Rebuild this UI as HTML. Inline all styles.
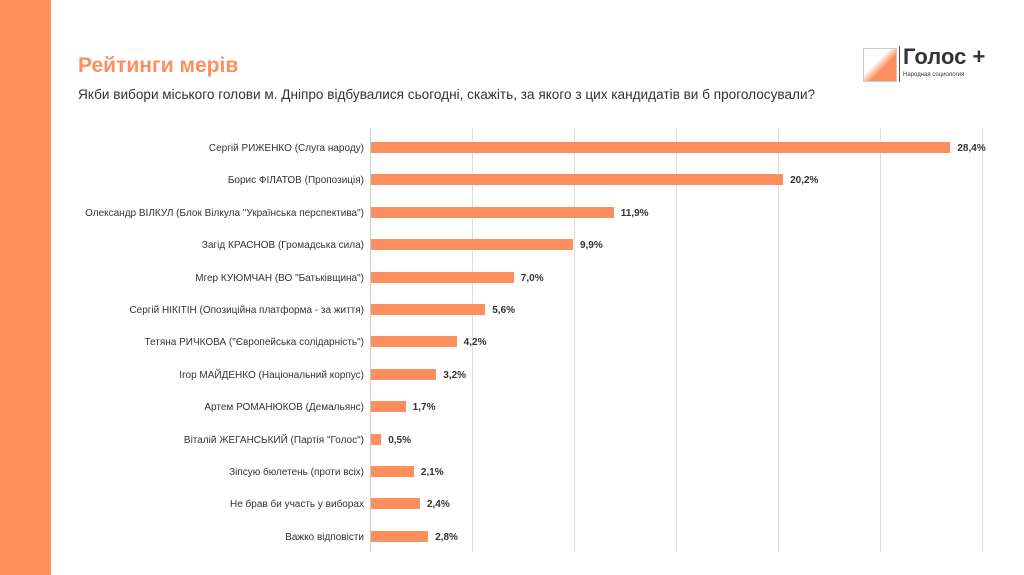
<!DOCTYPE html><html><head><meta charset="utf-8"><style>
body{margin:0;width:1024px;height:575px;background:#fff;position:relative;overflow:hidden;font-family:"Liberation Sans","DejaVu Sans",sans-serif}
.side{position:absolute;left:0;top:0;width:51px;height:575px;background:#fd8f5e}
.t{position:absolute;left:78px;top:54px;font-size:21px;font-weight:bold;color:#fd8f5e}
.s{position:absolute;left:78px;top:87px;font-size:13.6px;color:#333}
.g{position:absolute;top:128px;height:424px;width:1px;background:#ddd}
.lb{position:absolute;right:660px;font-size:10px;color:#333;white-space:nowrap}
.b{position:absolute;left:371px;height:11px;background:#fd8f5e}
.v{position:absolute;font-size:10px;font-weight:bold;color:#333}
</style></head><body>
<div class="side"></div>
<div class="t">Рейтинги мерів</div>
<div class="s">Якби вибори міського голови м. Дніпро відбувалися сьогодні, скажіть, за якого з цих кандидатів ви б проголосували?</div>
<div style="position:absolute;left:863px;top:48px;width:32px;height:32px;border:1px solid #ccc;background:linear-gradient(135deg,#fff 40%,#fd8f5e 60%)"></div>
<div style="position:absolute;left:899px;top:46px;width:1px;height:36px;background:#555"></div>
<div style="position:absolute;left:903px;top:44px;font-size:22px;font-weight:bold;color:#333">Голос +</div>
<div style="position:absolute;left:903px;top:72px;font-size:6px;color:#333">Народная социология</div>
<div class="g" style="left:370px;background:#ccc"></div><div class="g" style="left:472px"></div><div class="g" style="left:574px"></div><div class="g" style="left:676px"></div><div class="g" style="left:778px"></div><div class="g" style="left:880px"></div><div class="g" style="left:982px"></div>
<div id="c"></div>
<script>
var d=[["Сергій РИЖЕНКО (Слуга народу)",28.4],["Борис ФІЛАТОВ (Пропозиція)",20.2],["Олександр ВІЛКУЛ (Блок Вілкула \"Українська перспектива\")",11.9],["Загід КРАСНОВ (Громадська сила)",9.9],["Мгер КУЮМЧАН (ВО \"Батьківщина\")",7.0],["Сергій НІКІТІН (Опозиційна платформа - за життя)",5.6],["Тетяна РИЧКОВА (\"Європейська солідарність\")",4.2],["Ігор МАЙДЕНКО (Національний корпус)",3.2],["Артем РОМАНЮКОВ (Демальянс)",1.7],["Віталій ЖЕГАНСЬКИЙ (Партія \"Голос\")",0.5],["Зіпсую бюлетень (проти всіх)",2.1],["Не брав би участь у виборах",2.4],["Важко відповісти",2.8]];
var h="";d.forEach(function(r,i){var y=142+i*32.4,w=r[1]*20.4;
h+='<div class="lb" style="top:'+(y+1)+'px">'+r[0]+'</div><div class="b" style="top:'+y+'px;width:'+w+'px"></div><div class="v" style="top:'+(y+1)+'px;left:'+(378+w)+'px">'+r[1].toFixed(1).replace(".",",")+'%</div>';});
document.getElementById("c").innerHTML=h;
</script>
</body></html>
